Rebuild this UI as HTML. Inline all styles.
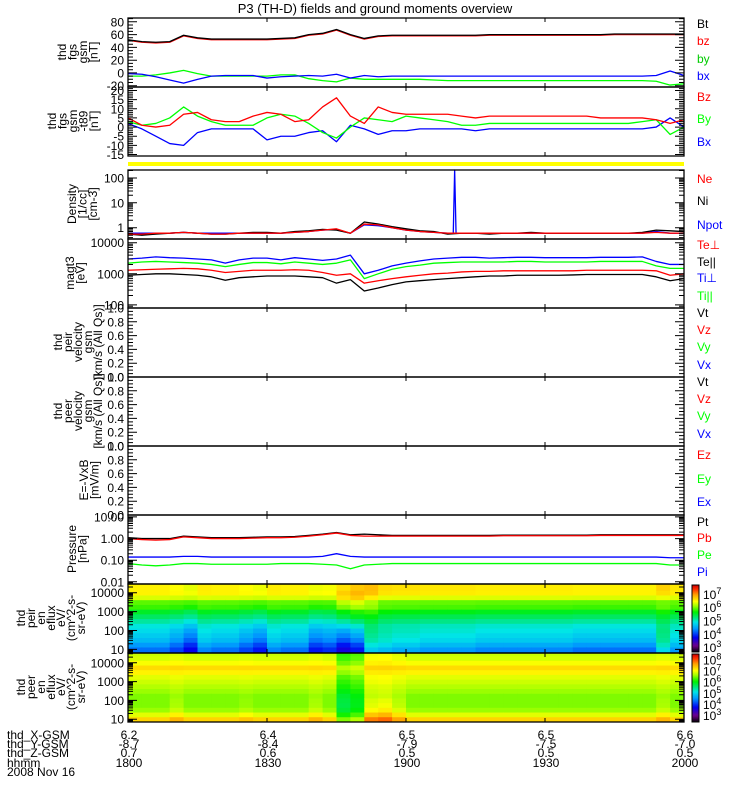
<!DOCTYPE html>
<html><head><meta charset="utf-8"><style>
html,body{margin:0;padding:0;background:#fff;}
svg{display:block;font-family:"Liberation Sans",sans-serif;}
</style></head><body>
<svg id="chart" width="750" height="800" viewBox="0 0 750 800"></svg>
<script>
// ---------- data ----------
const tMin=[0,3,6,9,12,15,18,21,24,27,30,33,36,39,42,45,48,51,54,57,60,63,66,69,72,75,78,81,84,87,90,93,96,99,102,105,108,111,114,117,120];
const btVals=[52,49,48,49,59,55,53,53,53,53,53,54,55,60,62,68,60,54,58,59,59,59,59,59,59,59,60,60,60,60,60,60,60,60,60,61,61,61,61,61,61];
const bzVals=[51,48,47,48,58,54,52,52,52,52,52,53,54,59,61,67,59,53,57,58,58,58,58,58,58,58,59,59,59,59,59,59,59,59,59,60,60,60,60,60,60];
const byVals=[-5,-5,-3,0,4,-1,-5,-5,-5,-5,-5,-3,-3,-9,-12,-14,-8,-10,-10,-10,-10,-10,-11,-12,-12,-12,-12,-12,-12,-12,-12,-12,-12,-12,-12,-12,-12,-12,-13,-19,-17];
const bxVals=[-1,-2,-6,-11,-16,-10,-5,-4,-4,-4,-8,-6,-5,-4,-5,-2,-8,-4,-6,-5,-5,-5,-5,-5,-5,-5,-5,-5,-5,-5,-5,-5,-5,-5,-5,-5,-5,-5,-4,3,-4];
const dBzVals=[5,1,0,1,7,8,4,3,3,6,8,7,3,4,11,16,6,2,11,8,7,7,7,7,6,5,6,6,6,6,6,6,6,6,5,5,5,5,4,2,4];
const dByVals=[3,1,2,5,11,6,3,1,1,1,5,7,6,2,-3,-6,0,5,4,3,6,5,4,3,1,1,2,2,2,2,2,2,2,2,2,2,2,3,4,-4,0];
const dBxVals=[2,-1,-5,-9,-10,-3,-1,-1,-1,-1,-7,-5,-5,-3,-2,-8,1,-1,-4,-2,-2,-1,-1,-1,-1,-2,-1,-1,-1,-1,-1,-1,-1,-1,-1,-1,-1,-1,0,5,0];
const neVals=[0.55,0.55,0.6,0.6,0.65,0.6,0.55,0.55,0.6,0.6,0.6,0.6,0.65,0.7,0.8,0.9,0.6,1.4,1.3,1.0,0.8,0.7,0.65,0.6,0.6,0.6,0.6,0.6,0.6,0.6,0.6,0.6,0.6,0.6,0.6,0.6,0.6,0.6,0.65,0.6,0.6];
const niVals=[0.55,0.5,0.55,0.6,0.65,0.6,0.55,0.55,0.6,0.65,0.65,0.6,0.7,0.75,0.85,0.8,0.6,1.7,1.4,1.1,0.9,0.75,0.7,0.55,0.6,0.6,0.55,0.6,0.6,0.65,0.6,0.6,0.6,0.6,0.6,0.6,0.6,0.65,0.8,0.75,0.7];
const npotVals=[0.6,0.6,0.6,0.6,0.65,0.6,0.6,0.6,0.6,0.6,0.6,0.6,0.65,0.7,0.8,0.85,0.6,1.3,1.2,1.0,0.8,0.7,0.65,0.6,0.6,0.6,0.6,0.6,0.6,0.6,0.6,0.6,0.6,0.6,0.6,0.6,0.6,0.6,0.7,0.6,0.6];
const npotSpikeT=[70.2,70.5,70.8];
const npotSpikeV=[0.6,250,0.6];
const tePerpVals=[1300,1350,1400,1450,1500,1450,1300,1100,1200,1300,1300,1300,1350,1300,1100,900,1000,500,600,700,800,900,1000,1050,1150,1200,1200,1250,1250,1250,1250,1250,1250,1300,1300,1300,1300,1300,1250,900,1000];
const teParVals=[900,950,1000,1000,950,900,800,620,750,800,850,850,850,800,750,500,650,280,350,450,550,600,650,700,750,800,850,850,900,900,900,900,920,950,950,950,950,950,800,600,700];
const tiPerpVals=[3000,3200,3500,3300,3200,3000,2800,2200,2800,3200,3200,2800,3300,3000,2700,3000,4000,1000,1300,1800,2200,2600,3000,3200,3400,3400,3200,3300,3400,3400,3300,3300,3300,3300,3400,3400,3400,3500,2500,2000,2000];
const tiParVals=[2200,2400,2500,2400,2300,2200,2000,1700,2000,2300,2300,2100,2400,2200,2000,2200,2800,700,1000,1400,1700,1900,2200,2300,2400,2400,2400,2400,2500,2500,2400,2400,2400,2400,2500,2500,2500,2500,1800,1500,1500];
const ptVals=[1.1,1.0,1.0,1.0,1.3,1.2,1.1,1.1,1.1,1.15,1.2,1.2,1.25,1.4,1.6,1.9,1.5,1.6,1.5,1.4,1.4,1.4,1.4,1.4,1.4,1.4,1.4,1.45,1.45,1.45,1.45,1.45,1.45,1.45,1.5,1.5,1.5,1.5,1.5,1.5,1.5];
const pbVals=[1.0,0.9,0.85,0.9,1.2,1.1,1.0,1.0,1.0,1.05,1.1,1.1,1.15,1.3,1.5,1.8,1.4,1.3,1.3,1.3,1.3,1.3,1.3,1.3,1.3,1.3,1.3,1.35,1.35,1.35,1.35,1.35,1.35,1.35,1.4,1.4,1.4,1.4,1.4,1.4,1.4];
const piVals=[0.14,0.14,0.14,0.14,0.15,0.15,0.14,0.14,0.14,0.14,0.14,0.14,0.14,0.14,0.15,0.2,0.15,0.14,0.14,0.14,0.14,0.14,0.14,0.14,0.14,0.14,0.14,0.14,0.14,0.14,0.14,0.14,0.14,0.14,0.14,0.14,0.14,0.14,0.14,0.13,0.13];
const peVals=[0.07,0.06,0.055,0.06,0.07,0.07,0.065,0.065,0.065,0.065,0.065,0.07,0.07,0.07,0.065,0.06,0.04,0.06,0.065,0.07,0.07,0.07,0.07,0.07,0.07,0.07,0.07,0.07,0.07,0.07,0.07,0.07,0.07,0.07,0.07,0.07,0.07,0.07,0.07,0.06,0.06];
// spectrogram data (log10 energy bins, log10 flux)
const eLog=[1.0,1.25,1.5,1.75,2.0,2.25,2.5,2.75,3.0,3.25,3.5,3.75,4.0,4.25,4.5];
const ionBase=[4.3,4.5,4.7,4.8,4.9,5.0,5.2,5.4,5.6,5.9,6.0,6.4,6.6,6.6,6.6];
const ionW=[1,1,0.9,0.8,0.7,0.5,0.4,0.3,0.3,0.2,0.1,0.1,0.2,0.3,0.3];
const ionModLo=[0,0,0,-0.2,-0.5,0.1,0,0,-0.2,-0.4,0.1,0,0,-0.4,-0.3,-0.6,-0.4,0.5,0.4,0.3,0.3,0.2,0.2,0.2,0.2,0.1,0.1,0.1,0.1,0.1,0.1,0.1,0,0,0,0,0,0,0.6,0.2];
const ionModHi=[0,0,0,0,0,0,0,0,0,0,0,0,0,0,0,0.4,0.5,0.2,0,0,0,0,0,0,0,0,0,0,0,0,0,0,0,0,0,0,0,0,0,0];
const eleBase=[7.4,7.0,6.7,6.6,6.6,6.6,6.7,6.8,6.9,7.0,7.2,7.35,7.1,6.95,6.9];
const eleModLo=[0,0,0,0.2,0,0,0,0,0.1,0,0,0,0,0.2,0,-0.8,-0.6,0.5,0.6,0.3,0,0,0,0,0,0,0,0,0,0,0,0,0,0,0,0,0,0,0.2,0];
const eleModHi=[0,0,0,0,0,0,0,0,0,0,0,0,0,0,0,-0.5,-0.4,0,0,0,0,0,0,0,0,0,0,0,0,0,0,0,0,0,0,0,0,0,0,0];
const xTickMin=[0,30,60,90,120];
const xGsm=["6.2","6.4","6.5","6.5","6.6"];
const yGsm=["-8.7","-8.4","-7.9","-7.5","-7.0"];
const zGsm=["0.7","0.6","0.5","0.5","0.5"];
const hhmm=["1800","1830","1900","1930","2000"];

// ---------- helpers ----------
const svg=document.getElementById('chart');
const NS='http://www.w3.org/2000/svg';
const X0=128,X1=684;
function xs(t){return X0+t*(X1-X0)/120;}
function mk(tag,attrs,parent){const e=document.createElementNS(NS,tag);for(const k in attrs)e.setAttribute(k,attrs[k]);(parent||svg).appendChild(e);return e;}
function txt(x,y,s,fill,anchor,size,parent){const e=mk('text',{x:x,y:y,fill:fill||'#000','font-size':size||12,'text-anchor':anchor||'start'},parent);e.textContent=s;return e;}
function panelY(p,v){const lv=p.log?Math.log10(v):v;return p.bot-(lv-p.min)/(p.max-p.min)*(p.bot-p.top);}

const panels={
 fgs:{top:18,bot:87,min:-22,max:86,log:false,major:20,minor:5,labels:[80,60,40,20,0,-20],fmt:v=>String(v)},
 fgst:{top:87,bot:156,min:-15.8,max:21.9,log:false,major:5,minor:1,labels:[20,15,10,5,0,-5,-10,-15],fmt:v=>String(v)},
 dens:{top:170,bot:239,min:-0.455,max:2.32,log:true,labels:[1,10,100],fmt:v=>String(v)},
 temp:{top:239,bot:308,min:1.90,max:4.12,log:true,labels:[100,1000,10000],fmt:v=>String(v)},
 vi:{top:308,bot:377,min:0,max:1,log:false,major:0.2,minor:0.05,labels:[0,0.2,0.4,0.6,0.8,1.0],fmt:v=>v.toFixed(1)},
 ve:{top:377,bot:446,min:0,max:1,log:false,major:0.2,minor:0.05,labels:[0,0.2,0.4,0.6,0.8,1.0],fmt:v=>v.toFixed(1)},
 ef:{top:446,bot:515,min:0,max:1,log:false,major:0.2,minor:0.05,labels:[0,0.2,0.4,0.6,0.8,1.0],fmt:v=>v.toFixed(1)},
 pres:{top:515,bot:584,min:-2.1,max:1.09,log:true,labels:[0.01,0.1,1,10],fmt:v=>v.toFixed(2)},
 ion:{top:584,bot:653,min:0.81,max:4.46,log:true,labels:[10,100,1000,10000],fmt:v=>String(v)},
 ele:{top:653,bot:722,min:0.85,max:4.52,log:true,labels:[10,100,1000,10000],fmt:v=>String(v)}
};

// colormap (IDL rainbow-like)
const cStops=[[0,0,0,0],[0.1,110,0,140],[0.22,0,0,240],[0.35,0,150,255],[0.45,0,230,230],[0.52,0,230,120],[0.6,0,240,0],[0.7,170,255,0],[0.76,255,255,0],[0.86,255,160,0],[0.94,255,50,0],[1,210,0,0]];
function cmap(f){f=Math.max(0,Math.min(1,f));for(let i=1;i<cStops.length;i++){if(f<=cStops[i][0]){const a=cStops[i-1],b=cStops[i];const u=(f-a[0])/(b[0]-a[0]);return 'rgb('+Math.round(a[1]+u*(b[1]-a[1]))+','+Math.round(a[2]+u*(b[2]-a[2]))+','+Math.round(a[3]+u*(b[3]-a[3]))+')';}}return 'rgb(210,0,0)';}

// ---------- title ----------
const title=txt(375,13,'P3 (TH-D) fields and ground moments overview','#000','middle',13);



// ---------- spectrograms ----------
function spectro(p,name,base,w,modLo,modHi,cmin,cmax){
 const g=mk('g',{});
 
 
 const dE=0.25;
 for(let ti=0;ti<modLo.length;ti++){
  const xa=xs(tMin[ti]),xb=xs(tMin[ti+1]);
  for(let ei=0;ei<eLog.length;ei++){
   const v=base[ei]+w[ei]*modLo[ti]+(1-w[ei])*modHi[ti];
   const ya=Math.max(p.top,panelY({...p,log:false},eLog[ei]+dE/2));
   const yb=Math.min(p.bot,panelY({...p,log:false},eLog[ei]-dE/2-(ei===0?1:0)));
   const r=mk('rect',{x:xa.toFixed(2),y:ya.toFixed(2),width:(xb-xa+0.4).toFixed(2),height:(yb-ya+0.4).toFixed(2),fill:cmap((v-cmin)/(cmax-cmin))},g);
   
   
  }
 }
}
spectro(panels.ion,'ion-energy-spectrogram',ionBase,ionW,ionModLo,ionModHi,2.7,7.75);
spectro(panels.ele,'electron-energy-spectrogram',eleBase,ionW,eleModLo,eleModHi,2.45,8.6);

// colorbars
function colorbar(name,top,bot,cmin,cmax,exps){
 const g=mk('g',{});
 
 
 const n=60;
 for(let i=0;i<n;i++){
  const y=bot-(i+1)*(bot-top)/n;
  const r=mk('rect',{x:692,y:y.toFixed(2),width:7,height:((bot-top)/n+0.4).toFixed(2),fill:cmap((i+0.5)/n)},g);
  
  
 }
 mk('rect',{x:692,y:top,width:7,height:bot-top,fill:'none',stroke:'#000','stroke-width':1},g);
 exps.forEach(e=>{
  const y=bot-(e-cmin)/(cmax-cmin)*(bot-top);
  const t=mk('text',{x:703,y:(y+4).toFixed(1),'font-size':12,fill:'#000'},g);
  
  
  t.appendChild(document.createTextNode('10'));
  const s=mk('tspan',{dy:-5,'font-size':9},t);s.textContent=String(e);
 });
}
colorbar('ion-colorbar',585,652,2.7,7.75,[3,4,5,6,7]);
colorbar('electron-colorbar',654,722,2.45,8.6,[3,4,5,6,7,8]);

// yellow bar
const yb=mk('rect',{x:X0,y:162,width:X1-X0,height:4,fill:'#ffff00'});



// ---------- series ----------
function line(p,name,tArr,vals,color){
 let d='';
 for(let i=0;i<vals.length;i++){
  let y=panelY(p,vals[i]);y=Math.max(p.top,Math.min(p.bot,y));
  d+=(i?'L':'M')+xs(tArr[i]).toFixed(2)+' '+y.toFixed(2);
 }
 const e=mk('path',{d:d,fill:'none',stroke:color,'stroke-width':1.3,'stroke-linejoin':'round'});
 
 
}
const P=panels;
line(P.fgs,'by-line',tMin,byVals,'#00ff00');
line(P.fgs,'bx-line',tMin,bxVals,'#0000ff');
line(P.fgs,'bz-line',tMin,bzVals,'#ff0000');
line(P.fgs,'bt-line',tMin,btVals,'#000000');
line(P.fgst,'dbx-line',tMin,dBxVals,'#0000ff');
line(P.fgst,'dby-line',tMin,dByVals,'#00ff00');
line(P.fgst,'dbz-line',tMin,dBzVals,'#ff0000');
line(P.dens,'npot-line',tMin,npotVals,'#0000ff');
line(P.dens,'npot-spike',npotSpikeT,npotSpikeV,'#0000ff');
line(P.dens,'ni-line',tMin,niVals,'#000000');
line(P.dens,'ne-line',tMin,neVals,'#ff0000');
line(P.temp,'ti-perp-line',tMin,tiPerpVals,'#0000ff');
line(P.temp,'ti-par-line',tMin,tiParVals,'#00ff00');
line(P.temp,'te-perp-line',tMin,tePerpVals,'#ff0000');
line(P.temp,'te-par-line',tMin,teParVals,'#000000');
line(P.pres,'pt-line',tMin,ptVals,'#000000');
line(P.pres,'pb-line',tMin,pbVals,'#ff0000');
line(P.pres,'pi-line',tMin,piVals,'#0000ff');
line(P.pres,'pe-line',tMin,peVals,'#00ff00');

// ---------- axes ----------
function axes(key,name){
 const p=P[key];
 const g=mk('g',{});
 
 
 let d='';
 const tick=(y,len)=>{d+='M'+X0+' '+y.toFixed(1)+'h'+len+'M'+X1+' '+y.toFixed(1)+'h'+(-len);};
 if(p.log){
  for(let dcd=Math.floor(p.min);dcd<=Math.ceil(p.max);dcd++){
   for(let m=1;m<10;m++){const lv=dcd+Math.log10(m);if(lv<p.min||lv>p.max)continue;
    const y=p.bot-(lv-p.min)/(p.max-p.min)*(p.bot-p.top);tick(y,m===1?9:5);}
  }
 }else{
  const s=Math.ceil(p.min/p.minor-1e-9);
  for(let k=s;k*p.minor<=p.max+1e-9;k++){const v=k*p.minor;const y=panelY(p,v);
   const isMaj=Math.abs(v/p.major-Math.round(v/p.major))<1e-6;tick(y,isMaj?9:5);}
 }
 xTickMin.forEach(t=>{const x=xs(t);d+='M'+x.toFixed(1)+' '+p.top+'v4M'+x.toFixed(1)+' '+p.bot+'v-4';});
 mk('path',{d:d,stroke:'#000','stroke-width':1,fill:'none'},g);
 mk('rect',{x:X0,y:p.top,width:X1-X0,height:p.bot-p.top,fill:'none',stroke:'#000','stroke-width':1.3},g);
 p.labels.forEach(v=>{
  const y=panelY(p,v);
  const t=txt(124,(y+4.5).toFixed(1),p.fmt(v),'#000','end',12,g);
  
  
 });
}
axes('fgs','fgs-gsm-axes');
axes('fgst','fgs-t89-axes');
axes('dens','density-axes');
axes('temp','temperature-axes');
axes('vi','ion-velocity-axes');
axes('ve','electron-velocity-axes');
axes('ef','efield-axes');
axes('pres','pressure-axes');
axes('ion','ion-spectrogram-axes');
axes('ele','electron-spectrogram-axes');

// ---------- y titles ----------
function ytitle(name,cy,x0,lines,step){
 const g=mk('g',{});
 
 
 lines.forEach((s,i)=>{
  const x=x0+i*step;
  const t=mk('text',{x:x,y:cy,'font-size':12,'text-anchor':'middle',transform:'rotate(-90 '+x+' '+cy+')',fill:'#000'},g);
  t.textContent=s;
 });
}
ytitle('fgs-gsm-title',52,66,['thd','fgs','gsm','[nT]'],10.5);
ytitle('fgs-t89-title',121,56,['thd','fgs','gsm','-t89','[nT]'],10.5);
ytitle('density-title',204,76,['Density','[1/cc]','[cm-3]'],10.5);
ytitle('temperature-title',273,74,['magt3','[eV]'],10.5);
ytitle('ion-velocity-title',342,62,['thd','peir','velocity','gsm','[km/s (All Qs)]'],10);
ytitle('electron-velocity-title',411,62,['thd','peer','velocity','gsm','[km/s (All Qs)]'],10);
ytitle('efield-title',480,88,['E=-VxB','[mV/m]'],10.5);
ytitle('pressure-title',549,76,['Pressure','[nPa]'],10.5);
ytitle('ion-spectrogram-title',618,25,['thd','peir','en','eflux','eV/','(cm^2-s-','sr-eV)'],10);
ytitle('electron-spectrogram-title',687,25,['thd','peer','en','eflux','eV/','(cm^2-s-','sr-eV)'],10);

// ---------- legends ----------
function legend(items){
 items.forEach(it=>{
  const t=txt(697,it[1]+4,it[0],it[2],'start',12);
  
  
 });
}
legend([['Bt',24,'#000'],['bz',41,'#ff0000'],['by',59,'#00cc00'],['bx',76,'#0000ff'],
['Bz',97,'#ff0000'],['By',119,'#00ff00'],['Bx',142,'#0000ff'],
['Ne',179,'#ff0000'],['Ni',201,'#000'],['Npot',225,'#0000ff'],
['Te\u22a5',245,'#ff0000'],['Te||',262,'#000'],['Ti\u22a5',278,'#0000ff'],['Ti||',296,'#00ff00'],
['Vt',313,'#000'],['Vz',330,'#ff0000'],['Vy',347,'#00ff00'],['Vx',365,'#0000ff'],
['Vt',382,'#000'],['Vz',399,'#ff0000'],['Vy',416,'#00ff00'],['Vx',434,'#0000ff'],
['Ez',455,'#ff0000'],['Ey',479,'#00ff00'],['Ex',502,'#0000ff'],
['Pt',522,'#000'],['Pb',538,'#ff0000'],['Pe',555,'#00ff00'],['Pi',572,'#0000ff']]);

// ---------- bottom labels ----------
const rowNames=['thd_X-GSM','thd_Y-GSM','thd_Z-GSM','hhmm'];
const rowVals=[xGsm,yGsm,zGsm,hhmm];
const rowY=[739,748,757,767];
rowNames.forEach((n,i)=>{
 const t=txt(7,rowY[i],n,'#000','start',12);
 
 
 rowVals[i].forEach((v,j)=>{
  const l=txt(xs(xTickMin[j])+1,rowY[i],v,'#000','middle',12);
  
  
 });
});
const dt=txt(7,776,'2008 Nov 16','#000','start',12);


</script>
</body></html>
